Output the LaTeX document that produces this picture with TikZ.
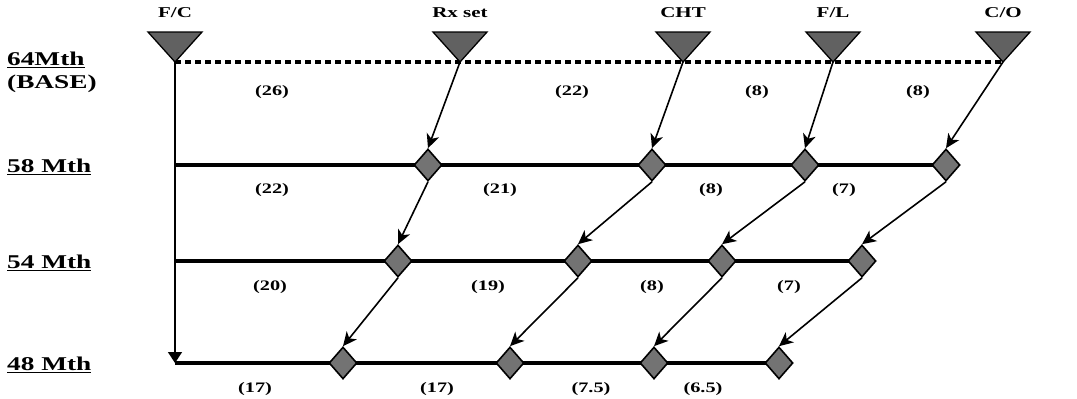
\documentclass[tikz,border=0pt]{standalone}
\usepackage{fontspec}
\setmainfont{Liberation Serif}[FakeStretch=1.4]
\usetikzlibrary{arrows.meta,shapes.geometric}
\begin{document}
\begin{tikzpicture}[x=1pt,y=-1pt,
  toplab/.style={font=\fontsize{15}{17}\selectfont\bfseries, inner sep=0pt},
  lvl/.style={font=\fontsize{19.5}{21}\selectfont\bfseries, anchor=west, inner sep=0pt},
  num/.style={font=\fontsize{14.5}{16}\selectfont\bfseries, inner sep=0pt},
  dia/.style={diamond, draw=black, line width=1.6pt, fill=black!55, minimum width=28pt, minimum height=32pt, inner sep=0pt},
  tri/.style={draw=black, line width=1.3pt, fill=black!62},
  flow/.style={line width=1.6pt, -{Stealth[length=14pt,width=13pt,inset=4pt]}},
  lev/.style={line width=3.4pt},
  basel/.style={line width=3.4pt, dash pattern=on 6pt off 4pt},
  vert/.style={line width=1.4pt, -{Triangle[length=11pt,width=14pt]}}
]
\useasboundingbox (0,0) rectangle (1077,399);
% tips of triangles
\coordinate (tFC) at (175,62);
\coordinate (tRX) at (460,62);
\coordinate (tCH) at (683,62);
\coordinate (tFL) at (833,62);
\coordinate (tCO) at (1003,62);
% level ends
\coordinate (l58) at (175,165);
\coordinate (l54) at (175,261);
\coordinate (l48) at (175,363);
% dashed base line
\draw[basel] (tFC) -- (tCO);
% diamond positions
\coordinate (a58) at (428,165);
\coordinate (b58) at (652,165);
\coordinate (c58) at (805,165);
\coordinate (d58) at (946,165);
\coordinate (a54) at (398,261);
\coordinate (b54) at (578,261);
\coordinate (c54) at (722,261);
\coordinate (d54) at (862,261);
\coordinate (a48) at (343,363);
\coordinate (b48) at (510,363);
\coordinate (c48) at (654,363);
\coordinate (d48) at (779,363);
% level lines
\draw[lev] (l58) -- (d58);
\draw[lev] (l54) -- (d54);
\draw[lev] (l48) -- (d48);
% vertical line
\draw[vert] (tFC) -- (l48);
% triangles
\foreach \t in {tFC,tRX,tCH,tFL,tCO}{
  \filldraw[tri] (\t) -- ++(-27,-30) -- ++(54,0) -- cycle;
}
% diamonds
\foreach \d in {a58,b58,c58,d58,a54,b54,c54,d54,a48,b48,c48,d48}{
  \node[dia] (D\d) at (\d) {};
}
% flows
\draw[flow] (tRX) -- (Da58.north);
\draw[flow] (tCH) -- (Db58.north);
\draw[flow] (tFL) -- (Dc58.north);
\draw[flow] (tCO) -- (Dd58.north);
\draw[flow] (Da58.south) -- (Da54.north);
\draw[flow] (Db58.south) -- (Db54.north);
\draw[flow] (Dc58.south) -- (Dc54.north);
\draw[flow] (Dd58.south) -- (Dd54.north);
\draw[flow] (Da54.south) -- (Da48.north);
\draw[flow] (Db54.south) -- (Db48.north);
\draw[flow] (Dc54.south) -- (Dc48.north);
\draw[flow] (Dd54.south) -- (Dd48.north);
% top labels
\node[toplab] (nFC) at (175,13) {F/C};
\node[toplab] (nRX) at (460,13) {Rx set};
\node[toplab] (nCH) at (683,13) {CHT};
\node[toplab] (nFL) at (833,13) {F/L};
\node[toplab] (nCO) at (1003,13) {C/O};
% level labels
\node[lvl] (L64) at (7,60) {\underline{64Mth}};
\node[lvl] (LB) at (7,84) {(BASE)};
\node[lvl] (L58) at (7,167) {\underline{58 Mth}};
\node[lvl] (L54) at (7,263) {\underline{54 Mth}};
\node[lvl] (L48) at (7,365) {\underline{48 Mth}};
% numbers
\node[num] (n1a) at (272,92) {(26)};
\node[num] (n1b) at (572,92) {(22)};
\node[num] (n1c) at (757,92) {(8)};
\node[num] (n1d) at (918,92) {(8)};
\node[num] (n2a) at (272,190) {(22)};
\node[num] (n2b) at (500,190) {(21)};
\node[num] (n2c) at (711,190) {(8)};
\node[num] (n2d) at (844,190) {(7)};
\node[num] (n3a) at (270,287) {(20)};
\node[num] (n3b) at (488,287) {(19)};
\node[num] (n3c) at (652,287) {(8)};
\node[num] (n3d) at (789,287) {(7)};
\node[num] (n4a) at (255,389) {(17)};
\node[num] (n4b) at (437,389) {(17)};
\node[num] (n4c) at (591,389) {(7.5)};
\node[num] (n4d) at (703,389) {(6.5)};
\end{tikzpicture}
\end{document}
